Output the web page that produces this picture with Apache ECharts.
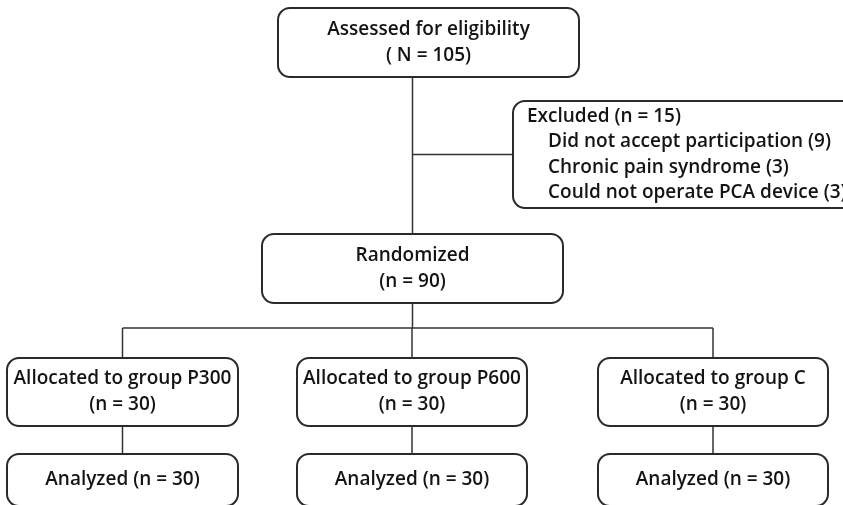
<!DOCTYPE html>
<html>
<head>
<meta charset="utf-8">
<script src="https://cdn.jsdelivr.net/npm/echarts@6/dist/echarts.min.js"></script>
<style>
  html, body { margin: 0; padding: 0; background: #fff; }
  #main { width: 843px; height: 505px; }
</style>
</head>
<body>
<div id="main"></div>
<script>
// flow counts
const assessedN = 105
const excludedN = 15
const excludedReasons = ['Did not accept participation', 'Chronic pain syndrome', 'Could not operate PCA device']
const excludedCounts = [9, 3, 3]
const randomizedN = 90
const groups = ['P300', 'P600', 'C']
const allocatedN = [30, 30, 30]
const analyzedN = [30, 30, 30]

// text of each box, same order as boxLayout
const boxText = [
  ['Assessed for eligibility', '( N = ' + assessedN + ')'],
  ['Excluded (n = ' + excludedN + ')'].concat(excludedReasons.map((r, i) => r + ' (' + excludedCounts[i] + ')')),
  ['Randomized', '(n = ' + randomizedN + ')'],
  ...groups.map((g, i) => ['Allocated to group ' + g, '(n = ' + allocatedN[i] + ')']),
  ...analyzedN.map(n => ['Analyzed (n = ' + n + ')'])
]

// layout (axis units = px): x0, y0, x1, y1
const boxLayout = [
  [278, 8, 579, 77],
  [513, 101, 880, 208],
  [262, 234, 563, 303],
  [7, 358, 238, 426], [297, 358, 527, 426], [598, 358, 828, 426],
  [7, 454, 238, 506], [297, 454, 527, 506], [598, 454, 828, 506]
]
const leftAligned = [false, true, false, false, false, false, false, false, false]
const busY = 328

const FONT = '600 19px "Open Sans", "Liberation Sans", sans-serif'
const ink = '#141414'

// connectors derived from boxes
const boxTop = boxLayout[0], boxExcl = boxLayout[1], boxRand = boxLayout[2]
const trunkX = (boxRand[0] + boxRand[2]) / 2
const exclMid = (boxExcl[1] + boxExcl[3]) / 2
const segs = [
  [trunkX, boxTop[3], trunkX, boxRand[1]],
  [trunkX, exclMid, boxExcl[0], exclMid],
  [trunkX, boxRand[3], trunkX, busY]
]
const centers = [3, 4, 5].map(k => (boxLayout[k][0] + boxLayout[k][2]) / 2)
segs.push([centers[0], busY, centers[2], busY])
centers.forEach((cx, i) => {
  segs.push([cx, busY, cx, boxLayout[3 + i][1]])
  segs.push([cx, boxLayout[3 + i][3], cx, boxLayout[6 + i][1]])
})

function renderBox(params, api) {
  const i = params.dataIndex
  const p0 = api.coord([api.value(0), api.value(1)])
  const p1 = api.coord([api.value(2), api.value(3)])
  const lines = boxText[i]
  const children = [{
    type: 'rect',
    shape: { x: p0[0], y: p0[1], width: p1[0] - p0[0], height: p1[1] - p0[1], r: 12 },
    style: { fill: '#fff', stroke: '#2a2a2a', lineWidth: 2 }
  }]
  const left = leftAligned[i]
  const gap = left ? 25.3 : 26
  const midY = (p0[1] + p1[1]) / 2
  lines.forEach((t, j) => {
    const y = midY + (j - (lines.length - 1) / 2) * gap
    children.push({
      type: 'text',
      style: {
        text: t,
        x: left ? p0[0] + 14 + (j > 0 ? 21 : 0) : (p0[0] + p1[0]) / 2,
        y: y,
        align: left ? 'left' : 'center',
        verticalAlign: 'middle',
        font: FONT,
        fill: ink
      }
    })
  })
  return { type: 'group', children: children }
}

function renderSeg(params, api) {
  const a = api.coord([api.value(0), api.value(1)])
  const b = api.coord([api.value(2), api.value(3)])
  return {
    type: 'line',
    shape: { x1: a[0], y1: a[1], x2: b[0], y2: b[1] },
    style: { stroke: '#333', lineWidth: 1.5 }
  }
}

let myChart = echarts.init(document.getElementById('main'))
myChart.setOption({
  animation: false,
  grid: { left: 0, right: 0, top: 0, bottom: 0 },
  xAxis: { type: 'value', min: 0, max: 843, show: false },
  yAxis: { type: 'value', min: 0, max: 505, inverse: true, show: false },
  series: [
    {
      type: 'custom',
      renderItem: renderSeg,
      data: segs,
      clip: false,
      z: 1
    },
    {
      type: 'custom',
      renderItem: renderBox,
      data: boxLayout,
      clip: true,
      z: 2
    }
  ]
})
</script>
</body>
</html>
